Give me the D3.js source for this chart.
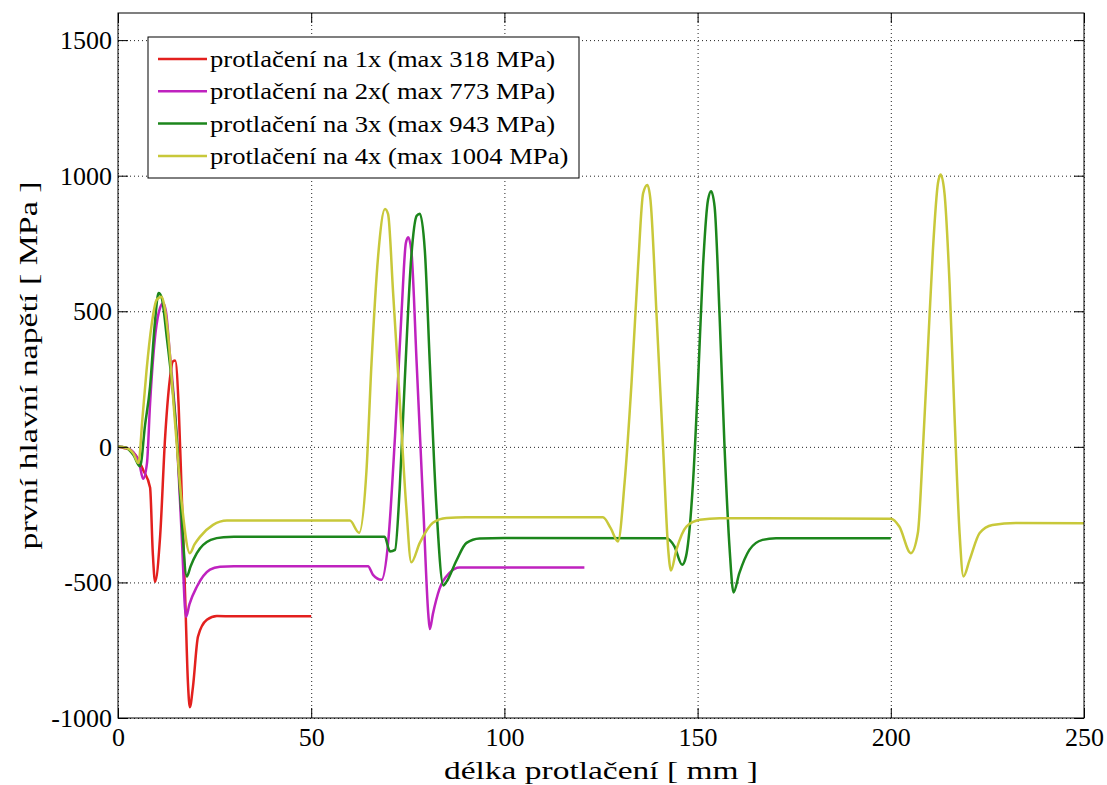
<!DOCTYPE html>
<html>
<head>
<meta charset="utf-8">
<script src="https://cdn.jsdelivr.net/npm/d3@7"></script>
<style>
    body { margin: 0; background: #fff; }
    svg text { font-family: "Times New Roman", Times, "Liberation Serif", Tinos, "Nimbus Roman", "FreeSerif", "DejaVu Serif", serif !important; fill: #000; }
</style>
</head>
<body>
<div id="chart"></div>
<script>
// values: [délka mm, napětí MPa]
var series1x = [[0,0],[1.5,-4],[3,-10],[5,-40],[6.5,-85],[8.3,-150],[9,-390],[9.6,-498],[10.9,-330],[12.2,37],[13.4,247],[14.2,315],[14.8,318],[15.7,150],[16.5,-180],[17.4,-560],[18.1,-870],[18.6,-960],[19.4,-885],[20.7,-700],[23,-638],[25.6,-624],[30,-625],[40,-625],[50,-625]];
var series2x = [[0,0],[2,-3],[4,-20],[5.5,-60],[6.5,-118],[7.5,-60],[8.3,160],[9.7,420],[10.9,513],[11.7,530],[12.4,500],[13.4,347],[15.2,37],[16.5,-330],[17.6,-627],[18.5,-580],[20.4,-516],[23.8,-453],[26.4,-442],[30,-440],[64.7,-440],[66,-472],[68.2,-490],[69.9,-354],[71.7,41],[73.4,500],[74.5,752],[75.1,773],[75.9,726],[77.3,306],[79,-221],[80.3,-616],[80.7,-672],[81.5,-616],[83.2,-524],[85.8,-465],[88.4,-445],[95,-445],[120.7,-445]];
var series3x = [[0,0],[2,-3],[4,-30],[5.7,-72],[7,80],[8.3,222],[9.5,450],[10.5,567],[11.3,550],[12.6,407],[15.2,37],[16.5,-270],[17.8,-478],[18.8,-440],[20.4,-392],[24,-343],[27.3,-333],[30,-332],[69,-332],[70.4,-386],[71.7,-380],[72.9,-155],[74.2,240],[75.9,700],[77.3,852],[78.1,860],[79.4,726],[80.7,306],[82.4,-221],[84.2,-511],[85,-498],[87.6,-419],[90.2,-354],[93.6,-338],[100,-336],[141.9,-337],[144,-367],[146,-435],[147,-404],[148.8,-134],[150.1,235],[151.4,665],[152.7,911],[153.5,943],[154.4,886],[155.7,480],[157,-11],[158.3,-380],[159.3,-537],[160.8,-466],[163.4,-380],[166.8,-343],[170.3,-337],[200,-337]];
var series4x = [[0,0],[2,-3],[4,-25],[5.3,-60],[6.3,100],[7.4,284],[8.7,450],[10,542],[11.3,554],[12,520],[13,407],[14.7,100],[16.5,-207],[18.6,-392],[19.8,-360],[21.2,-332],[24.6,-288],[28.2,-272],[35,-272],[60,-272],[62.4,-317],[64.3,-89],[65.6,306],[67.3,700],[69.1,877],[69.9,858],[71.2,568],[72.9,173],[74.6,-221],[75.9,-426],[78.1,-354],[81.5,-280],[85,-262],[90,-260],[125.5,-260],[127.5,-300],[129.4,-349],[131.1,-133],[132.9,236],[134.6,665],[135.9,935],[137,966],[137.8,911],[139.4,480],[141.1,-11],[142.4,-380],[143.1,-456],[144.5,-380],[147.1,-294],[150.6,-269],[155.7,-263],[200,-265],[202.2,-294],[205.2,-392],[207,-318],[208.3,-11],[209.6,358],[210.9,726],[212.2,972],[212.9,1004],[213.9,935],[215.2,604],[216.5,112],[217.8,-318],[218.8,-478],[220.4,-417],[223,-318],[226.3,-288],[232.4,-281],[250,-282]];

var legendLabels = ["protlačení na 1x (max 318 MPa)", "protlačení na 2x( max 773 MPa)", "protlačení na 3x (max 943 MPa)", "protlačení na 4x (max 1004 MPa)"];
var xTicks = [0, 50, 100, 150, 200, 250];
var yTicks = [-1000, -500, 0, 500, 1000, 1500];
var xLabel = "délka protlačení [ mm ]";
var yLabel = "první hlavní napětí [ MPa ]";

var colors = ["#e3201e", "#bf22bf", "#1c861c", "#c8c83a"];

var W = 1107, H = 785;
var margin = {top: 13, right: 23, bottom: 67, left: 118};
var width = W - margin.left - margin.right;
var height = H - margin.top - margin.bottom;

var svg = d3.select("#chart").append("svg")
    .attr("width", W)
    .attr("height", H);

var g = svg.append("g")
    .attr("transform", "translate(" + margin.left + "," + margin.top + ")");

var x = d3.scaleLinear().domain([0, 250]).range([0, width]);
var y = d3.scaleLinear().domain([-1000, 1600]).range([height, 0]);

// dotted grid
g.append("g")
    .attr("class", "grid")
    .attr("transform", "translate(0," + height + ")")
    .call(d3.axisBottom(x).tickValues(xTicks).tickSize(-height).tickFormat(""));
g.append("g")
    .attr("class", "grid")
    .call(d3.axisLeft(y).tickValues(yTicks).tickSize(-width).tickFormat(""));
g.selectAll(".grid .domain").remove();
g.selectAll(".grid line")
    .attr("stroke", "#222")
    .attr("stroke-width", 1)
    .attr("stroke-dasharray", "1,3");

// curves
g.append("clipPath").attr("id", "clip")
    .append("rect").attr("width", width).attr("height", height);

var line = d3.line()
    .x(function (d) { return x(d[0]); })
    .y(function (d) { return y(d[1]); })
    .curve(d3.curveMonotoneX);

var allSeries = [series1x, series2x, series3x, series4x];
g.append("g").attr("clip-path", "url(#clip)")
    .selectAll("path")
    .data(allSeries)
    .enter().append("path")
    .attr("d", line)
    .attr("fill", "none")
    .attr("stroke", function (d, i) { return colors[i]; })
    .attr("stroke-width", 2.5)
    .attr("stroke-linejoin", "round");

// axes, ticks inward on all four sides
var tickLen = 10;
var fmt = function (d) { return String(d); };
function styleAxis(sel) {
    sel.select(".domain").remove();
    sel.selectAll("line").attr("stroke", "#000");
    sel.selectAll("text").attr("font-size", "26px").attr("fill", "#000");
}
g.append("g")
    .attr("transform", "translate(0," + height + ")")
    .call(d3.axisBottom(x).tickValues(xTicks).tickFormat(fmt).tickSize(-tickLen).tickPadding(10))
    .call(styleAxis);
g.append("g")
    .call(d3.axisLeft(y).tickValues(yTicks).tickFormat(fmt).tickSize(-tickLen).tickPadding(6))
    .call(styleAxis);
g.append("g")
    .call(d3.axisTop(x).tickValues(xTicks).tickSize(-tickLen).tickFormat(""))
    .call(styleAxis);
g.append("g")
    .attr("transform", "translate(" + width + ",0)")
    .call(d3.axisRight(y).tickValues(yTicks).tickSize(-tickLen).tickFormat(""))
    .call(styleAxis);

// tick numbers: Times-like digits are half an em wide
g.selectAll(".tick text").each(function () {
    var t = d3.select(this), s = t.text();
    if (!s) return;
    var target = s.replace("-", "").length * 13 + (s.charAt(0) === "-" ? 9 : 0);
    if (this.getComputedTextLength() > target + 1) {
        t.attr("textLength", target).attr("lengthAdjust", "spacingAndGlyphs");
    }
});

g.append("rect")
    .attr("width", width)
    .attr("height", height)
    .attr("fill", "none")
    .attr("stroke", "#000")
    .attr("stroke-width", 1);

// axis titles (the original font is drawn wide, so stretch to its length)
var xLen = 314;
svg.append("text")
    .attr("x", margin.left + width / 2 - xLen / 2)
    .attr("y", 779)
    .attr("font-size", "26px")
    .attr("textLength", xLen)
    .attr("lengthAdjust", "spacingAndGlyphs")
    .text(xLabel);

var yLen = 368;
svg.append("text")
    .attr("transform", "translate(37," + (margin.top + height / 2 + yLen / 2) + ") rotate(-90)")
    .attr("font-size", "26px")
    .attr("textLength", yLen)
    .attr("lengthAdjust", "spacingAndGlyphs")
    .text(yLabel);

// legend
var legend = svg.append("g").attr("transform", "translate(148,37)");
legend.append("rect")
    .attr("width", 431)
    .attr("height", 141)
    .attr("fill", "#fff")
    .attr("stroke", "#000")
    .attr("stroke-width", 1);

var rowH = 32.3;
var rows = legend.selectAll(".row")
    .data(legendLabels)
    .enter().append("g")
    .attr("class", "row")
    .attr("transform", function (d, i) { return "translate(0," + (22 + i * rowH) + ")"; });
rows.append("line")
    .attr("x1", 10).attr("x2", 59)
    .attr("stroke", function (d, i) { return colors[i]; })
    .attr("stroke-width", 2.5);
var legendText = rows.append("text")
    .attr("x", 62)
    .attr("y", 8)
    .attr("font-size", "23px")
    .text(function (d) { return d; });
// first row is 345px wide in the original; scale every row by the same factor
var k = 345 / legendText.node().getComputedTextLength();
legendText.each(function () {
    d3.select(this).attr("textLength", this.getComputedTextLength() * k).attr("lengthAdjust", "spacingAndGlyphs");
});
</script>
</body>
</html>
